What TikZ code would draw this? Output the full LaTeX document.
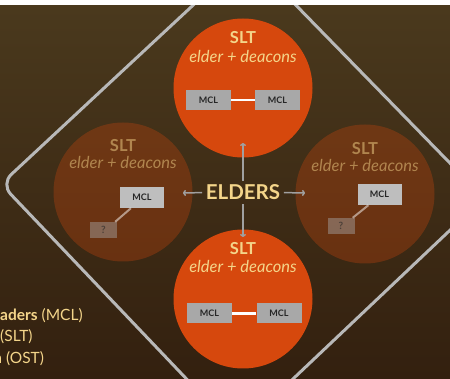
\documentclass[tikz,border=0pt]{standalone}
\usepackage{fontspec}
\setmainfont{Lato}
\usetikzlibrary{arrows.meta,calc}
\definecolor{bgtop}{HTML}{4A391D}
\definecolor{bgbot}{HTML}{33200F}
\definecolor{orng}{HTML}{D6480D}
\definecolor{gold}{HTML}{F4D58A}
\definecolor{boxgray}{HTML}{A8A8A8}
\definecolor{fadebox}{HTML}{BEBEBE}
\definecolor{linegray}{HTML}{B8B8B8}
\definecolor{arrowgray}{HTML}{A0A0A0}
\definecolor{mcltext}{HTML}{262626}
\begin{document}
\begin{tikzpicture}[x=1pt,y=-1pt,
  bigcirc/.style={circle, fill=orng, minimum size=139pt, inner sep=0pt},
  fadecirc/.style={circle, fill=orng, fill opacity=0.3, minimum size=139pt, inner sep=0pt},
  slttext/.style={text=gold, font=\bfseries\fontsize{16.5}{16.5}\selectfont, anchor=base, inner sep=0pt},
  eldtext/.style={text=gold, font=\itshape\fontsize{16.5}{16.5}\selectfont, anchor=base, inner sep=0pt},
  fadetext/.style={text opacity=0.5},
  mclbox/.style={fill=boxgray, minimum width=45pt, minimum height=20pt, inner sep=0pt, text=mcltext, font=\bfseries\fontsize{9}{9}\selectfont},
  fmclbox/.style={fill=fadebox, minimum width=44pt, minimum height=21pt, inner sep=0pt, text=mcltext, font=\bfseries\fontsize{9}{9}\selectfont},
  qbox/.style={fill=boxgray, fill opacity=0.45, text opacity=0.6, minimum width=27pt, minimum height=16pt, inner sep=0pt, text=mcltext, font=\bfseries\fontsize{10}{10}\selectfont},
  link/.style={white, line width=2.6pt},
  flink/.style={white, opacity=0.5, line width=2pt},
  arr/.style={arrowgray, line width=1.5pt, -{To[length=3pt,width=6pt]}},
  legend/.style={text=gold, font=\fontsize{15.5}{15.5}\selectfont, inner sep=0pt}
]
\useasboundingbox (0,0) rectangle (450,379);
\fill[white] (0,0) rectangle (450,6);
\shade[top color=bgtop, bottom color=bgbot] (0,6) rectangle (450,379);
\begin{scope}
\clip (0,6) rectangle (450,379);
% rounded diamond frame
\draw[linegray, line width=3pt, rounded corners=14pt] (1,184) -- (247,-45) -- (484,198) -- (237,432) -- cycle;

% circles
\node[bigcirc] (ctop) at (243,88) {};
\node[bigcirc] (cbot) at (243,299) {};
\node[fadecirc] (cleft) at (123,192) {};
\node[fadecirc] (cright) at (365,194) {};

% top circle contents
\node[slttext] (stop) at (243,44) {SLT};
\node[eldtext] (etop) at (243,63) {elder + deacons};
\node[mclbox] (tm1) at (208.5,100) {MCL};
\node[mclbox] (tm2) at (277.5,100) {MCL};
\draw[link] (tm1.east) -- (tm2.west);

% bottom circle contents
\node[slttext] (sbot) at (243,255) {SLT};
\node[eldtext] (ebot) at (243,273) {elder + deacons};
\node[mclbox] (bm1) at (209.5,313.5) {MCL};
\node[mclbox] (bm2) at (279,313.5) {MCL};
\draw[link] (bm1.east) -- (bm2.west);

% left circle contents
\node[slttext, fadetext] (sleft) at (123,152) {SLT};
\node[eldtext, fadetext] (eleft) at (123,169) {elder + deacons};
\node[fmclbox] (lm) at (142,197.5) {MCL};
\node[qbox] (lq) at (103.5,230) {?};
\draw[flink] ($(lm.south west)!0.25!(lm.south east)$) -- ($(lq.north east)+(-2,0)$);

% right circle contents
\node[slttext, fadetext] (sright) at (365,155) {SLT};
\node[eldtext, fadetext] (eright) at (365,172) {elder + deacons};
\node[fmclbox] (rm) at (379.5,194.5) {MCL};
\node[qbox] (rq) at (341,226) {?};
\draw[flink] ($(rm.south west)!0.25!(rm.south east)$) -- ($(rq.north east)+(-2,0)$);

% center
\node[text=gold, font=\bfseries\fontsize{20.5}{20.5}\selectfont, inner xsep=3.5pt, inner ysep=4pt, anchor=base] (elders) at (243,200) {ELDERS};
\coordinate (tu) at (243,143);
\coordinate (td) at (243,237);
\coordinate (tl) at (183,193);
\coordinate (tr) at (305,193);
\draw[arr] (elders.north) -- (tu);
\draw[arr] (elders.south) -- (td);
\draw[arr] (elders.west) -- (tl);
\draw[arr] (elders.east) -- (tr);

% legend (cut off at left edge, as in the reference)
\node[legend, anchor=base west] (l1) at (0,321) {\textbf{aders} (MCL)};
\node[legend, anchor=base west] (l2) at (0,342) {(SLT)};
\node[legend, anchor=base west] (l3) at (-6,363) {\textbf{a} (OST)};
\end{scope}
\end{tikzpicture}
\end{document}
